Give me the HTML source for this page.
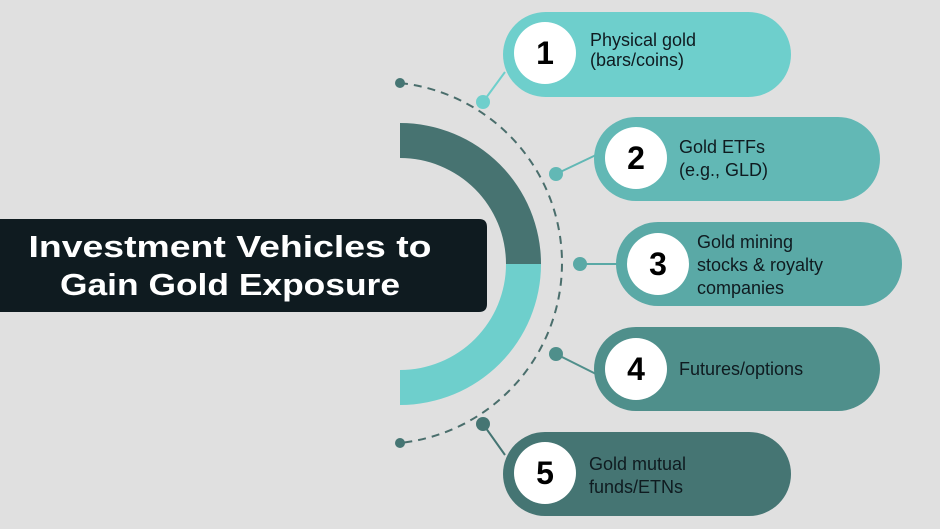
<!DOCTYPE html>
<html><head><meta charset="utf-8"><style>
html,body{margin:0;padding:0;background:#e0e0e0}
svg{display:block}
text{font-family:"Liberation Sans",sans-serif}
</style></head><body>
<svg width="940" height="529" viewBox="0 0 940 529" xmlns="http://www.w3.org/2000/svg">
<rect width="940" height="529" fill="#e0e0e0"/>
<!-- half ring -->
<path d="M400 123 A141 141 0 0 1 541 264 L506 264 A106 106 0 0 0 400 158 Z" fill="#477371"/>
<path d="M400 405 A141 141 0 0 0 541 264 L506 264 A106 106 0 0 1 400 370 Z" fill="#6ecfcc"/>
<!-- title box -->
<path d="M0 219 H479 Q487 219 487 227 V304 Q487 312 479 312 H0 Z" fill="#0f1b20"/>
<text x="230" y="257" text-anchor="middle" font-size="31" font-weight="bold" fill="#fff" textLength="403" lengthAdjust="spacingAndGlyphs">Investment Vehicles to</text>
<text x="230" y="295" text-anchor="middle" font-size="31" font-weight="bold" fill="#fff" textLength="340" lengthAdjust="spacingAndGlyphs">Gain Gold Exposure</text>
<!-- dashed arc -->
<path d="M400 83 A181 181 0 0 1 400 443" fill="none" stroke="#4a6e6c" stroke-width="2" stroke-dasharray="8 6"/>
<circle cx="400" cy="83" r="5" fill="#457573"/>
<circle cx="400" cy="443" r="5" fill="#457573"/>
<!-- connectors -->
<g stroke-width="2">
<line x1="483" y1="102" x2="505" y2="72" stroke="#6ecfcc"/>
<line x1="556" y1="174" x2="596" y2="155" stroke="#62b8b5"/>
<line x1="580" y1="264" x2="618" y2="264" stroke="#5aa9a6"/>
<line x1="556" y1="354" x2="596" y2="374" stroke="#4f8f8b"/>
<line x1="483" y1="424" x2="505" y2="455" stroke="#457573"/>
</g>
<circle cx="483" cy="102" r="7" fill="#6ecfcc"/>
<circle cx="556" cy="174" r="7" fill="#62b8b5"/>
<circle cx="580" cy="264" r="7" fill="#5aa9a6"/>
<circle cx="556" cy="354" r="7" fill="#4f8f8b"/>
<circle cx="483" cy="424" r="7" fill="#457573"/>
<!-- pills -->
<rect x="503" y="12" width="288" height="85" rx="42.5" fill="#6ecfcc"/>
<rect x="594" y="117" width="286" height="84" rx="42" fill="#62b8b5"/>
<rect x="616" y="222" width="286" height="84" rx="42" fill="#5aa9a6"/>
<rect x="594" y="327" width="286" height="84" rx="42" fill="#4f8f8b"/>
<rect x="503" y="432" width="288" height="84" rx="42" fill="#457573"/>
<g fill="#fff">
<circle cx="545" cy="53" r="31"/>
<circle cx="636" cy="158" r="31"/>
<circle cx="658" cy="264" r="31"/>
<circle cx="636" cy="369" r="31"/>
<circle cx="545" cy="473" r="31"/>
</g>
<g font-size="32" font-weight="bold" fill="#000" text-anchor="middle">
<text x="545" y="64">1</text>
<text x="636" y="169">2</text>
<text x="658" y="275">3</text>
<text x="636" y="380">4</text>
<text x="545" y="484">5</text>
</g>
<g font-size="18" fill="#0f1b20">
<text x="590" y="46">Physical gold</text>
<text x="590" y="66">(bars/coins)</text>
<text x="679" y="153">Gold ETFs</text>
<text x="679" y="176">(e.g., GLD)</text>
<text x="697" y="248">Gold mining</text>
<text x="697" y="271">stocks &amp; royalty</text>
<text x="697" y="294">companies</text>
<text x="679" y="375">Futures/options</text>
<text x="589" y="470">Gold mutual</text>
<text x="589" y="493">funds/ETNs</text>
</g>
</svg>
</body></html>
